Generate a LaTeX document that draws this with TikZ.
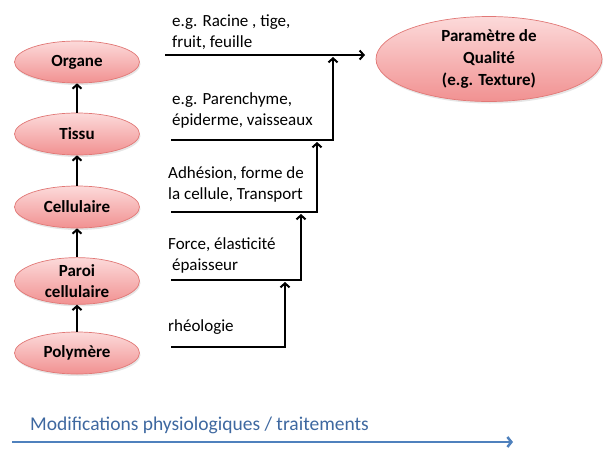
\documentclass[tikz,border=0pt]{standalone}
\usepackage{fontspec}
\setmainfont{Carlito}
\usetikzlibrary{shapes.geometric,arrows.meta,shadows,positioning}

\definecolor{rosehaut}{RGB}{252,218,218}
\definecolor{rosebas}{RGB}{241,145,145}
\definecolor{rosebord}{RGB}{225,120,118}
\definecolor{bleuaxe}{RGB}{79,129,189}
\definecolor{bleutexte}{RGB}{62,104,160}

\tikzset{
  niveau/.style={draw=rosebord,ellipse,line width=0.7pt,top color=rosehaut,bottom color=rosebas,
    minimum width=125pt,minimum height=42pt,inner sep=0pt,font=\fontsize{17}{21}\selectfont\bfseries,
    align=center,drop shadow={opacity=0.2,shadow xshift=1pt,shadow yshift=-2pt}},
  fleche/.style={line width=2pt,-{Straight Barb[length=4pt,width=9pt]}},
  etiq/.style={anchor=base west,inner sep=0pt,align=left,font=\fontsize{17}{20.5}\selectfont},
}

\begin{document}
\begin{tikzpicture}[x=1pt,y=1pt]
\useasboundingbox (0,0) rectangle (603,-451);

% niveaux d'organisation
\node[niveau] (poly) at (77,-353) {Polymère};
\node[niveau,above of=poly,node distance=72pt] (paroi) {Paroi\\cellulaire};
\node[niveau,above of=paroi,node distance=74pt] (cell) {Cellulaire};
\node[niveau,above of=cell,node distance=73pt] (tissu) {Tissu};
\node[niveau,above of=tissu,node distance=72pt] (organe) {Organe};
\node[niveau,minimum width=226pt,minimum height=85pt,font=\fontsize{17}{22}\selectfont\bfseries] (qual) at (489,-59) {Paramètre de\\Qualité\\(e.g. Texture)};

\draw[fleche] (poly) -- (paroi);
\draw[fleche] (paroi) -- (cell);
\draw[fleche] (cell) -- (tissu);
\draw[fleche] (tissu) -- (organe);

% lignes vers le parametre de qualite
\coordinate (a1) at (165,-55);
\coordinate (b1) at (365,-55);
\coordinate (a2) at (171,-140);
\coordinate (b2) at (333,-57);
\coordinate (a3) at (171,-212);
\coordinate (b3) at (317,-142);
\coordinate (a4) at (171,-280);
\coordinate (b4) at (301,-214);
\coordinate (a5) at (171,-347);
\coordinate (b5) at (285,-282);

\draw[fleche] (a1) -- (b1);
\draw[fleche] (a2) -| (b2);
\draw[fleche] (a3) -| (b3);
\draw[fleche] (a4) -| (b4);
\draw[fleche] (a5) -| (b5);

\node[etiq] (t1) at (172,-47) {e.g. Racine , tige,\\fruit, feuille};
\node[etiq] (t2) at (172,-125) {e.g. Parenchyme,\\épiderme, vaisseaux};
\node[etiq] (t3) at (168,-199) {Adhésion, forme de\\la cellule, Transport};
\node[etiq] (t4) at (168,-270) {Force, élasticité\\\ épaisseur};
\node[etiq] (t5) at (168,-331) {rhéologie};

% axe du bas
\coordinate (m0) at (12,-442);
\coordinate (m1) at (513,-442);
\draw[line width=2.5pt,bleuaxe,-{Straight Barb[length=4pt,width=10pt]}] (m0) -- (m1);
\node[anchor=base west,inner sep=0pt,text=bleutexte,font=\fontsize{19.5}{22}\selectfont] (modif) at (30,-430) {Modifications physiologiques / traitements};

\end{tikzpicture}
\end{document}
